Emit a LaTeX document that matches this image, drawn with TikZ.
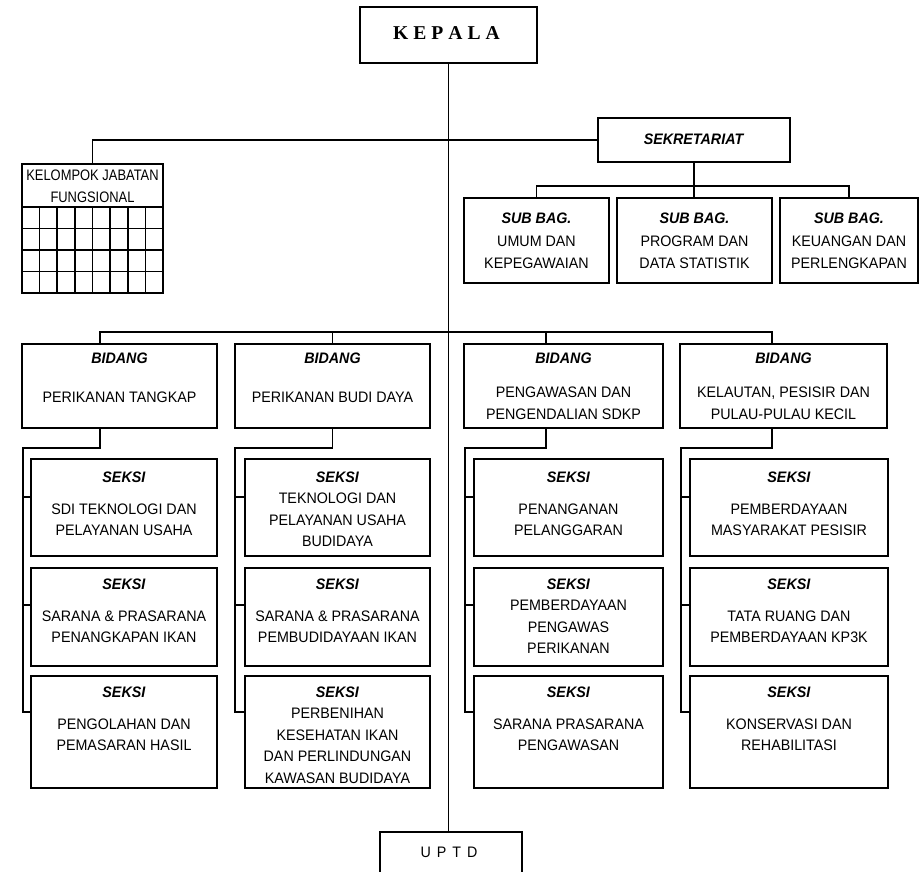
\documentclass[tikz,border=0pt]{standalone}
\usepackage{fontspec}
\setmainfont{Liberation Sans}[FakeStretch=0.94]
\newfontfamily\narrowface{Liberation Sans}[FakeStretch=0.85]
\newfontfamily\serifface{Liberation Serif}
\usetikzlibrary{calc}

\newcommand\hd[1]{\textbf{\textit{#1}}}

% text nodes are placed by the baseline of their last line
\tikzset{
  unit/.style={draw, line width=1.6pt, rectangle, inner sep=0pt},
  txt/.style={font=\fontsize{15.2}{21.5}\selectfont, align=center, anchor=base, inner sep=0pt},
  link/.style={line width=1.6pt},
}

\begin{document}
\begin{tikzpicture}[x=1pt, y=-1pt]
\clip (0,0) rectangle (923,871);
\fill[white] (0,0) rectangle (923,871);

% ---- top level ----
\node[unit, minimum width=177, minimum height=56] (kepala) at (448.5,35) {};
\node[txt, font=\serifface\bfseries\fontsize{19.6}{22}\selectfont] (kepalat) at (446.5,39)
  {K\kern5pt E\kern5pt P\kern5pt A\kern5pt L\kern5pt A};

\node[unit, minimum width=142, minimum height=60] (uptd) at (451,862) {};
\node[txt] (uptdt) at (449,857) {U\kern6pt P\kern6pt T\kern6pt D};

% ---- secretariat ----
\node[unit, minimum width=192, minimum height=44] (sek) at (694,140) {};
\node[txt] (sekt) at (694,144) {\hd{SEKRETARIAT}};

\node[unit, minimum width=145, minimum height=85] (sub1) at (536.5,240.5) {};
\node[unit, minimum width=155, minimum height=85] (sub2) at (694.5,240.5) {};
\node[unit, minimum width=138, minimum height=85] (sub3) at (849,240.5) {};
\node[txt] (sub1t) at (536.5,268) {\hd{SUB BAG.}\\[1.5pt]UMUM DAN\\KEPEGAWAIAN};
\node[txt] (sub2t) at (694.5,268) {\hd{SUB BAG.}\\[1.5pt]PROGRAM DAN\\DATA STATISTIK};
\node[txt] (sub3t) at (849,268) {\hd{SUB BAG.}\\[1.5pt]KEUANGAN DAN\\PERLENGKAPAN};

% ---- functional group with its table ----
\node[unit, minimum width=141, minimum height=129] (kjf) at (92.5,228.5) {};
\node[txt, font=\narrowface\fontsize{15.2}{22}\selectfont] (kjft) at (92.5,202)
  {KELOMPOK JABATAN\\FUNGSIONAL};
\foreach \j in {0,...,3}
  \draw[link] (22,{207+\j*21.5}) -- (163,{207+\j*21.5});
\foreach \i in {1,...,7}
  \draw[link] ({22+\i*141/8},207) -- ({22+\i*141/8},293);

% ---- divisions ----
\coordinate (c1) at (100,0);
\coordinate (c2) at (332.5,0);
\coordinate (c3) at (546,0);
\coordinate (c4) at (772,0);

\node[unit, minimum width=195, minimum height=84] (b1) at (119.5,386) {};
\node[unit, minimum width=195, minimum height=84] (b2) at (332.5,386) {};
\node[unit, minimum width=199, minimum height=84] (b3) at (563.5,386) {};
\node[unit, minimum width=207, minimum height=84] (b4) at (783.5,386) {};
\node[txt] (b1t) at (119.5,402) {\hd{BIDANG}\\[17.5pt]PERIKANAN TANGKAP};
\node[txt] (b2t) at (332.5,402) {\hd{BIDANG}\\[17.5pt]PERIKANAN BUDI DAYA};
\node[txt] (b3t) at (563.5,419) {\hd{BIDANG}\\[13pt]PENGAWASAN DAN\\PENGENDALIAN SDKP};
\node[txt] (b4t) at (783.5,419) {\hd{BIDANG}\\[13pt]KELAUTAN, PESISIR DAN\\PULAU-PULAU KECIL};

% ---- sections: column 1 ----
\node[unit, minimum width=186, minimum height=97]  (s11) at (124,507.5) {};
\node[unit, minimum width=186, minimum height=98]  (s12) at (124,617) {};
\node[unit, minimum width=186, minimum height=112] (s13) at (124,732) {};
\node[txt] (s11t) at (124,535.5) {\hd{SEKSI}\\[10.5pt]SDI TEKNOLOGI DAN\\PELAYANAN USAHA};
\node[txt] (s12t) at (124,642.5) {\hd{SEKSI}\\[10.5pt]SARANA \& PRASARANA\\PENANGKAPAN IKAN};
\node[txt] (s13t) at (124,750.5) {\hd{SEKSI}\\[10.5pt]PENGOLAHAN DAN\\PEMASARAN HASIL};

% ---- sections: column 2 ----
\node[unit, minimum width=185, minimum height=97]  (s21) at (337.5,507.5) {};
\node[unit, minimum width=185, minimum height=98]  (s22) at (337.5,617) {};
\node[unit, minimum width=185, minimum height=112] (s23) at (337.5,732) {};
\node[txt] (s21t) at (337.5,546.5) {\hd{SEKSI}\\TEKNOLOGI DAN\\PELAYANAN USAHA\\BUDIDAYA};
\node[txt] (s22t) at (337.5,642.5) {\hd{SEKSI}\\[10.5pt]SARANA \& PRASARANA\\PEMBUDIDAYAAN IKAN};
\node[txt] (s23t) at (337.5,783) {\hd{SEKSI}\\PERBENIHAN\\KESEHATAN IKAN\\DAN PERLINDUNGAN\\KAWASAN BUDIDAYA};

% ---- sections: column 3 ----
\node[unit, minimum width=189, minimum height=97]  (s31) at (568.5,507.5) {};
\node[unit, minimum width=189, minimum height=98]  (s32) at (568.5,617) {};
\node[unit, minimum width=189, minimum height=112] (s33) at (568.5,732) {};
\node[txt] (s31t) at (568.5,535.5) {\hd{SEKSI}\\[10.5pt]PENANGANAN\\PELANGGARAN};
\node[txt] (s32t) at (568.5,653.5) {\hd{SEKSI}\\PEMBERDAYAAN\\PENGAWAS\\PERIKANAN};
\node[txt] (s33t) at (568.5,750.5) {\hd{SEKSI}\\[10.5pt]SARANA PRASARANA\\PENGAWASAN};

% ---- sections: column 4 ----
\node[unit, minimum width=198, minimum height=97]  (s41) at (789,507.5) {};
\node[unit, minimum width=198, minimum height=98]  (s42) at (789,617) {};
\node[unit, minimum width=198, minimum height=112] (s43) at (789,732) {};
\node[txt] (s41t) at (789,535.5) {\hd{SEKSI}\\[10.5pt]PEMBERDAYAAN\\MASYARAKAT PESISIR};
\node[txt] (s42t) at (789,642.5) {\hd{SEKSI}\\[10.5pt]TATA RUANG DAN\\PEMBERDAYAAN KP3K};
\node[txt] (s43t) at (789,750.5) {\hd{SEKSI}\\[10.5pt]KONSERVASI DAN\\REHABILITASI};

% ---- connectors ----
\draw[link] (kepala.south) -- (kepala.south |- uptd.north);
\draw[link] (kjf.north) |- (sek.west);
\draw[link] (sek.south) -- (sek.south |- sub2.north);
\draw[link] (sub1.north) -- ++(0,-11) -| (sub3.north);

\draw[link] (b1.north -| c1) -- ++(0,-11) -| (b4.north -| c4);
\draw[link] (b2.north) -- ++(0,-11);
\draw[link] (b3.north -| c3) -- ++(0,-11);

\coordinate (k1) at (23,448);
\coordinate (k2) at (235,448);
\coordinate (k3) at (465,448);
\coordinate (k4) at (681,448);

\foreach \c in {1,...,4} {
  \coordinate (t\c1) at ($(s\c1.west)+(0,-10.5)$);
  \coordinate (t\c2) at ($(s\c2.west)+(0,-12)$);
  \coordinate (t\c3) at ($(s\c3.west)+(0,-20)$);
  \draw[link] (b\c.south -| c\c) |- (k\c) |- (t\c3);
  \draw[link] (t\c1) -- (t\c1 -| k\c);
  \draw[link] (t\c2) -- (t\c2 -| k\c);
}
\end{tikzpicture}
\end{document}
